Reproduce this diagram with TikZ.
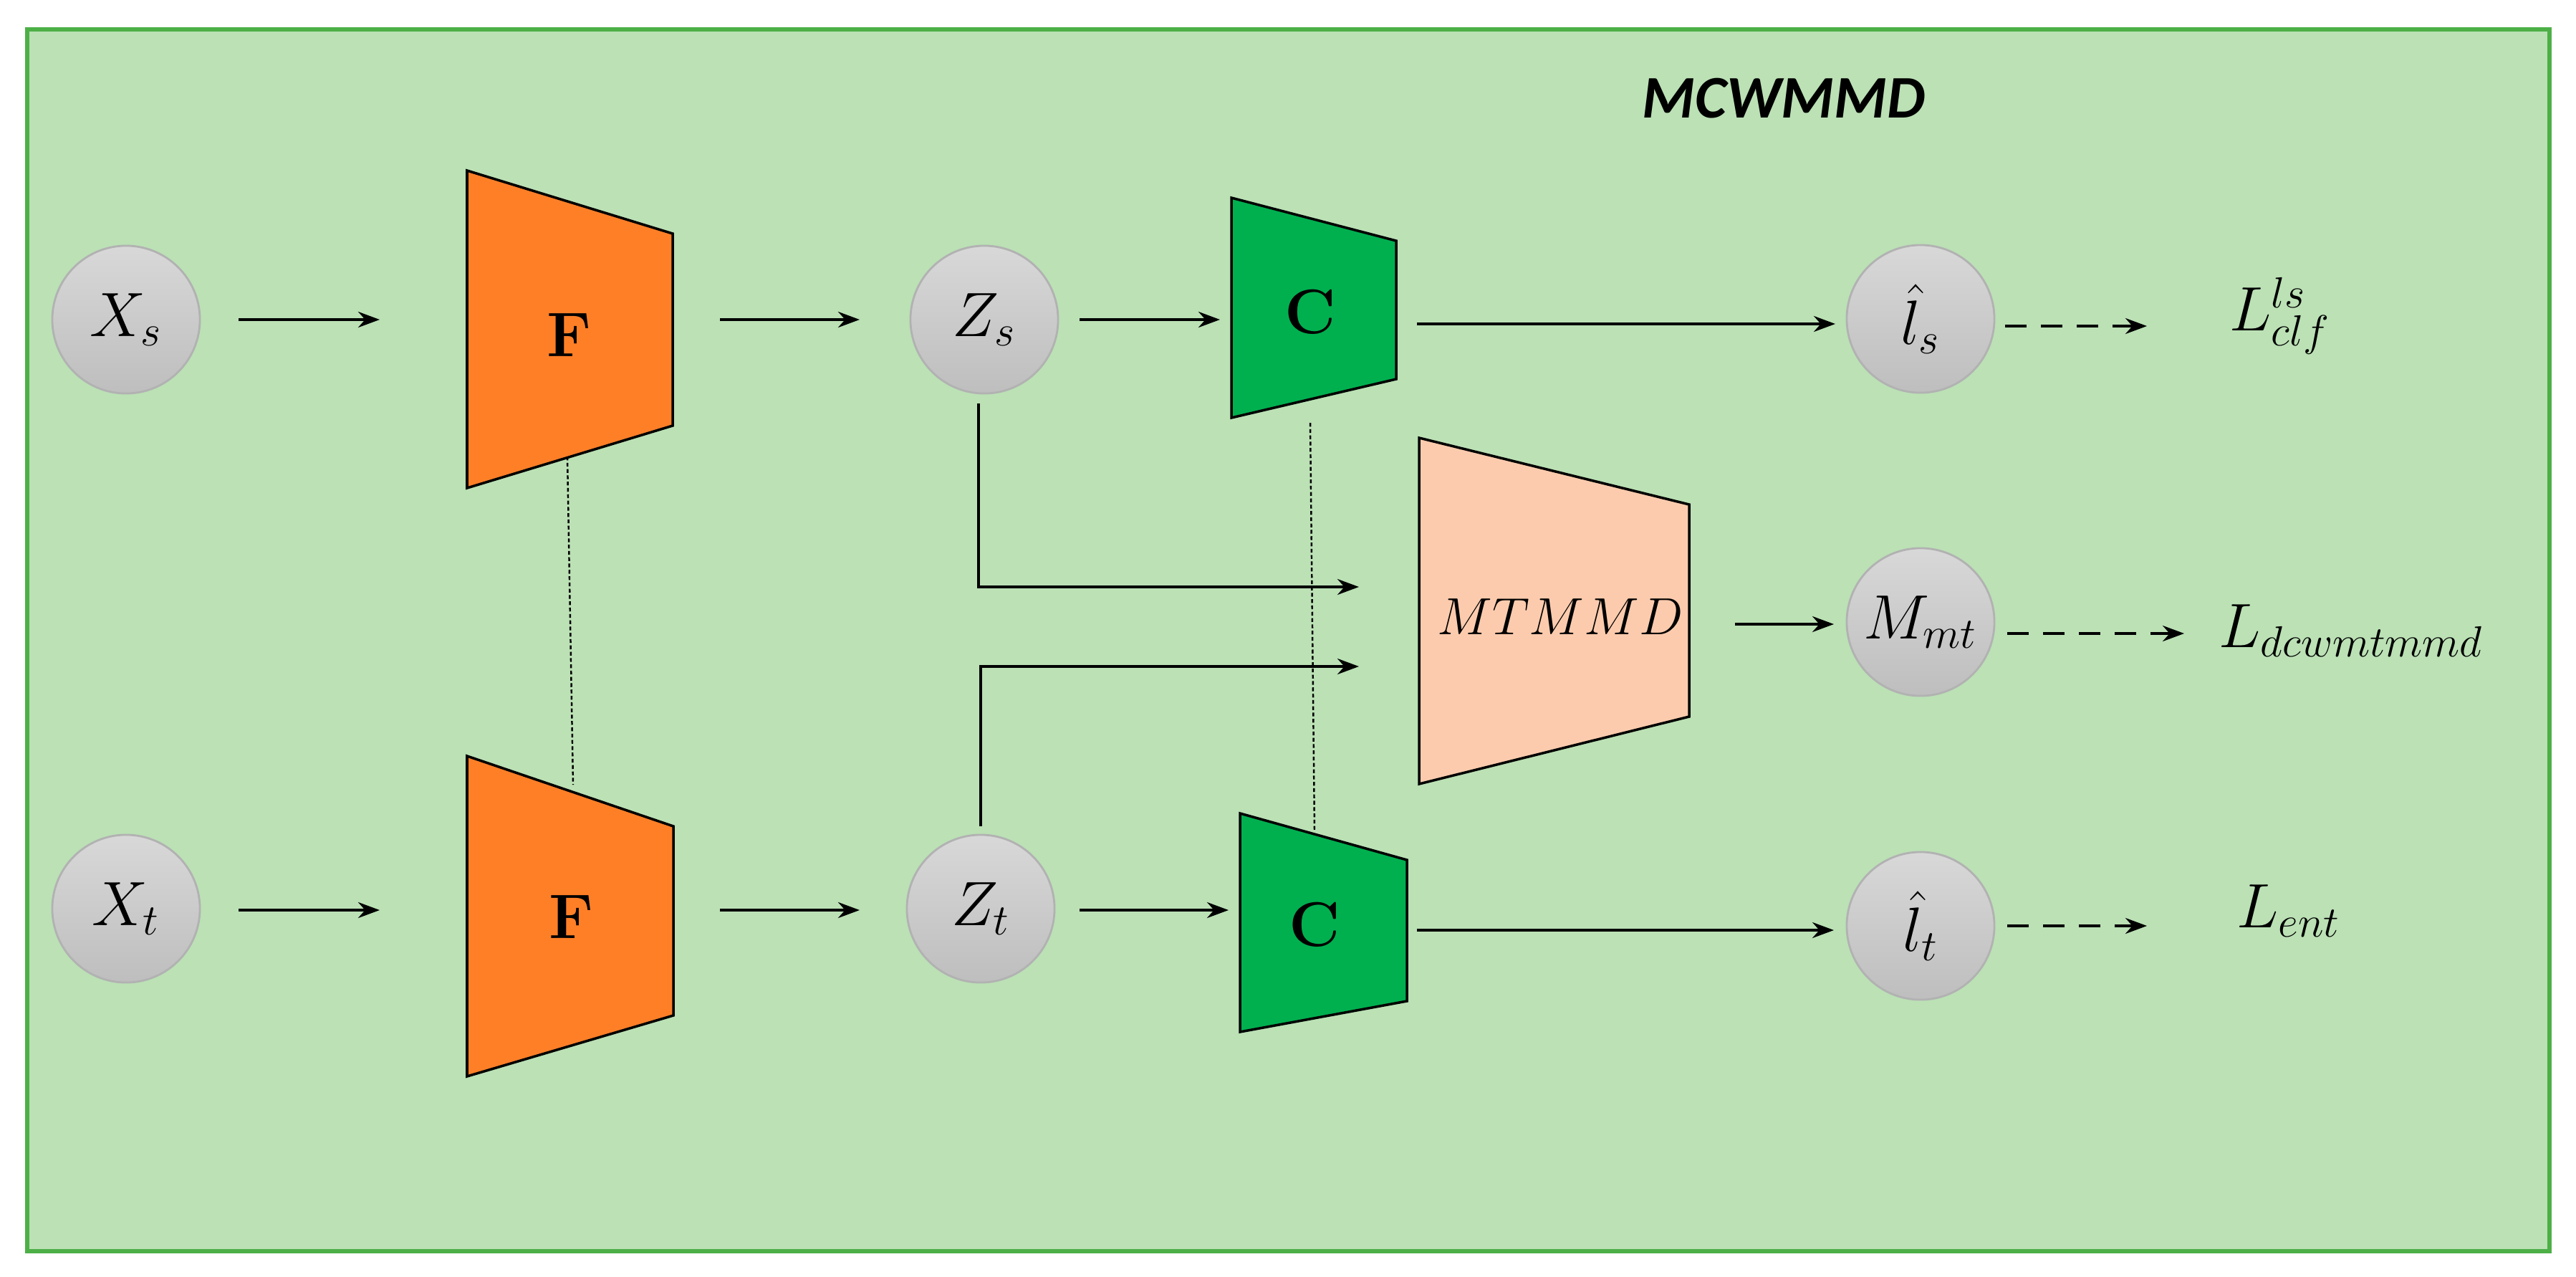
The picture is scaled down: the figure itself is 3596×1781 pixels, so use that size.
\documentclass[tikz,border=0pt]{standalone}
\usepackage{fontspec}
\usetikzlibrary{arrows.meta}
\newfontfamily\titlefont{Carlito}
\definecolor{bgg}{HTML}{BBE1B5}
\definecolor{bord}{HTML}{4DB047}
\definecolor{orf}{HTML}{FF7F27}
\definecolor{grc}{HTML}{00B04F}
\definecolor{pch}{HTML}{FCCBAD}
\definecolor{cl}{HTML}{D8D8D8}
\definecolor{cd}{HTML}{BEBEBE}
\begin{document}
\begin{tikzpicture}[x=0.01cm,y=-0.01cm,
  circ/.style={circle,minimum size=2.06cm,inner sep=0pt,draw=gray!60,line width=0.8pt,top color=cl,bottom color=cd,font=\fontsize{25}{30}\selectfont},
  lbl/.style={font=\fontsize{25}{30}\selectfont,anchor=west},
  arr/.style={line width=1.1pt,-{Stealth[length=0.3cm,width=0.22cm]}},
  darr/.style={arr,dash pattern=on 0.3cm off 0.2cm},
  trap/.style={draw=black,line width=1pt},
  dot/.style={line width=0.7pt,dash pattern=on 1.5pt off 1pt}]
\useasboundingbox (0,0) rectangle (3596,1781);
\draw[fill=bgg,draw=bord,line width=1.5pt] (38,41) rectangle (3559,1746);
\node[font=\titlefont\bfseries\itshape\fontsize{24}{28}\selectfont] (title) at (2490,137) {MCWMMD};
% shapes
\draw[trap,fill=orf] (652,238) -- (939,326) -- (939,594) -- (652,681) -- cycle;
\draw[trap,fill=orf] (652,1055) -- (940,1153) -- (940,1417) -- (652,1502) -- cycle;
\draw[trap,fill=grc] (1719,276) -- (1949,336) -- (1949,529) -- (1719,583) -- cycle;
\draw[trap,fill=grc] (1731,1135) -- (1964,1200) -- (1964,1397) -- (1731,1440) -- cycle;
\draw[trap,fill=pch] (1981,611) -- (2358,704) -- (2358,1000) -- (1981,1094) -- cycle;
\node[font=\bfseries\fontsize{25}{30}\selectfont] (F1) at (795,468) {F};
\node[font=\bfseries\fontsize{25}{30}\selectfont] (F2) at (798,1280) {F};
\node[font=\bfseries\fontsize{25}{30}\selectfont] (C1) at (1829,435) {C};
\node[font=\bfseries\fontsize{25}{30}\selectfont] (C2) at (1835,1290) {C};
\node[font=\fontsize{21}{26}\selectfont] (M) at (2178,861) {$MTMMD$};
% circles
\node[circ] (Xs) at (176,446) {$X_s$};
\node[circ] (Xt) at (176,1268) {$X_t$};
\node[circ] (Zs) at (1374,446) {$Z_s$};
\node[circ] (Zt) at (1369,1268) {$Z_t$};
\node[circ] (ls) at (2681,445) {$\hat{l}_s$};
\node[circ] (Mmt) at (2681,868) {$M_{mt}$};
\node[circ] (lt) at (2681,1292) {$\hat{l}_t$};
% labels
\node[lbl] (L1) at (3100,441) {$L^{ls}_{clf}$};
\node[lbl] (L2) at (3085,880) {$L_{dcwmtmmd}$};
\node[lbl] (L3) at (3110,1271) {$L_{ent}$};
% coordinates
\coordinate (a1) at (333,446); \coordinate (a2) at (530,446);
\coordinate (b1) at (1005,446); \coordinate (b2) at (1200,446);
\coordinate (c1) at (1507,446); \coordinate (c2) at (1703,446);
\coordinate (a3) at (333,1270); \coordinate (a4) at (530,1270);
\coordinate (b3) at (1005,1270); \coordinate (b4) at (1200,1270);
\coordinate (c3) at (1507,1270); \coordinate (c4) at (1715,1270);
\coordinate (d1) at (1978,452); \coordinate (d1e) at (2562,452);
\coordinate (d2) at (1978,1298); \coordinate (d2e) at (2560,1298);
\coordinate (e1) at (2422,871); \coordinate (e2) at (2560,871);
\coordinate (m1) at (1897,819); \coordinate (m2) at (1897,930);
\coordinate (zs0) at (1366,563); \coordinate (zt0) at (1369,1153);
\coordinate (f1) at (792,637); \coordinate (f2) at (800,1095);
\coordinate (g1) at (1829,590); \coordinate (g2) at (1835,1160);
\coordinate (h1) at (2799,455); \coordinate (h2) at (2997,455);
\coordinate (h3) at (2802,884); \coordinate (h4) at (3049,884);
\coordinate (h5) at (2802,1292); \coordinate (h6) at (2997,1292);
\draw[arr] (a1) -- (a2);
\draw[arr] (b1) -- (b2);
\draw[arr] (c1) -- (c2);
\draw[arr] (a3) -- (a4);
\draw[arr] (b3) -- (b4);
\draw[arr] (c3) -- (c4);
\draw[arr] (d1) -- (d1e);
\draw[arr] (d2) -- (d2e);
\draw[arr] (e1) -- (e2);
\draw[darr] (h1) -- (h2);
\draw[darr] (h3) -- (h4);
\draw[darr] (h5) -- (h6);
\draw[arr] (zs0) |- (m1);
\draw[arr] (zt0) |- (m2);
\draw[dot] (f1) -- (f2);
\draw[dot] (g1) -- (g2);
\end{tikzpicture}
\end{document}
